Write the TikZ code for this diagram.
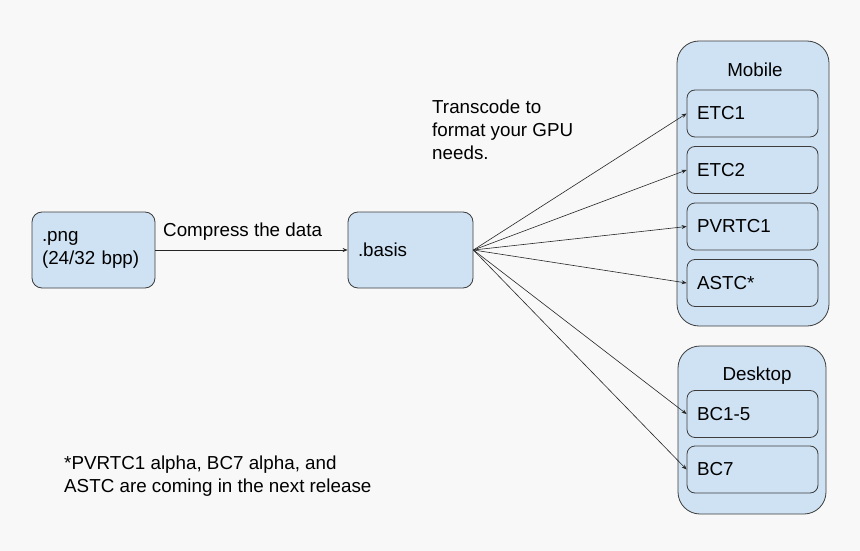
\documentclass[tikz,border=0pt]{standalone}
\usepackage{fontspec}
\setmainfont{Liberation Sans}
\usepackage{xcolor}
\usetikzlibrary{arrows.meta}
\definecolor{boxblue}{HTML}{CFE2F3}
\definecolor{boxline}{HTML}{3C3C3C}
\definecolor{paper}{HTML}{F8F8F8}

\begin{document}
\begin{tikzpicture}[x=1pt,y=-1pt,
    every node/.style={font=\fontsize{18.8}{23}\selectfont},
    file/.style={draw=boxline,fill=boxblue,line width=0.8pt,rounded corners=10pt,minimum height=76pt,inner xsep=10pt,align=left},
    group/.style={draw=boxline,fill=boxblue,line width=0.8pt,rounded corners=22pt},
    fmt/.style={draw=boxline,fill=boxblue,line width=0.8pt,rounded corners=8pt,minimum height=47pt,text width=111pt,inner xsep=10pt,align=left},
    link/.style={-{Stealth[length=5pt,width=4pt]},draw=black!85,line width=0.6pt}]
    \fill[paper] (0,0) rectangle (860,551);
    \useasboundingbox (0,0) rectangle (860,551);
    % source and compressed file
    \node[file,text width=103pt] (png) at (93.5,250) {.png\\(24/32 bpp)};
    \node[file,text width=105pt] (basis) at (410.5,250) {.basis};
    \draw[link] (png.east) -- (basis.west);
    \node[anchor=base west,inner sep=0pt] (compress) at (163,236) {Compress the data};
    \node[anchor=base west,inner sep=0pt,align=left] (transcode) at (432,159) {Transcode to\\format your GPU\\needs.};
    % mobile formats
    \node[group,minimum width=152pt,minimum height=285pt] (mobile) at (753,183.5) {};
    \node[anchor=base,inner sep=0pt] (mobiletitle) at (755,77) {Mobile};
    \node[fmt] (etc1) at (752.5,113.5) {ETC1};
    \node[fmt] (etc2) at (752.5,170) {ETC2};
    \node[fmt] (pvrtc) at (752.5,226.5) {PVRTC1};
    \node[fmt] (astc) at (752.5,283) {ASTC*};
    % desktop formats
    \node[group,minimum width=148pt,minimum height=168pt] (desktop) at (752,430) {};
    \node[anchor=base,inner sep=0pt] (desktoptitle) at (757,380) {Desktop};
    \node[fmt] (bcfive) at (752.5,414) {BC1-5};
    \node[fmt] (bcseven) at (752.5,469.5) {BC7};
    \foreach \target in {etc1,etc2,pvrtc,astc,bcfive,bcseven}
        \draw[link] (basis.east) -- (\target.west);
    \node[anchor=base west,inner sep=0pt,align=left] (note) at (64,492) {*PVRTC1 alpha, BC7 alpha, and\\ASTC are coming in the next release};
\end{tikzpicture}
\end{document}
